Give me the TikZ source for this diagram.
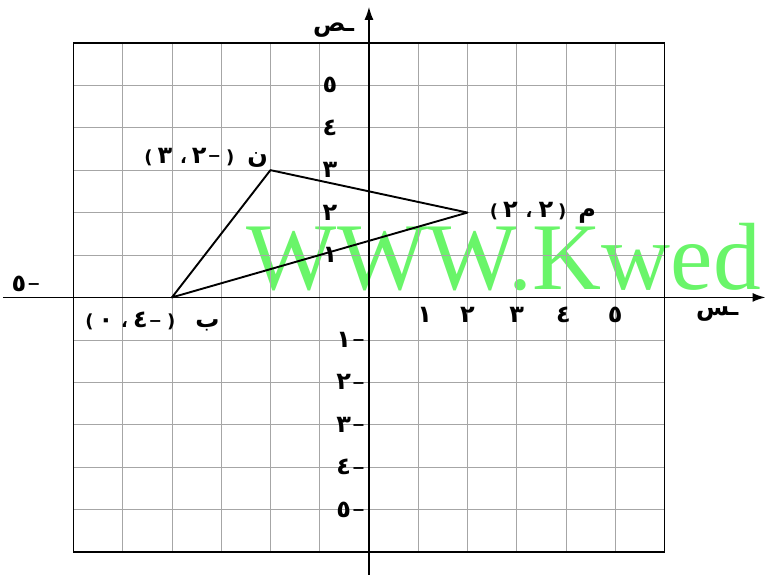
\documentclass[tikz,border=0pt]{standalone}
\usepackage{fontspec}
\setmainfont{Liberation Serif}
\newfontfamily\arabicfont[Script=Arabic]{DejaVu Sans}
\TeXXeTstate=1
\usetikzlibrary{arrows.meta}
\definecolor{wmgreen}{RGB}{105,245,105}
\newcommand\dgt[1]{{\fontsize{24}{26}\selectfont #1}}
\newcommand\mns{\raisebox{1.5pt}{\fontsize{16}{17}\selectfont −}}
\begin{document}
\begin{tikzpicture}[x=49.25pt,y=42.42pt,
  gridline/.style={gray!70, line width=0.7pt},
  axisline/.style={black, line width=1.6pt, -{Latex[length=13pt,width=9pt]}},
  frameline/.style={black, line width=1.6pt},
  triline/.style={black, line width=1.9pt, line join=round},
  ptlabel/.style={font=\arabicfont\bfseries\fontsize{18}{20}\selectfont, inner sep=0pt},
  ticklabel/.style={font=\arabicfont\bfseries\fontsize{18}{20}\selectfont, inner sep=0pt},
  axlabel/.style={font=\arabicfont\bfseries\fontsize{24}{26}\selectfont, inner sep=0pt},
  wmark/.style={font=\fontsize{95.5}{96}\selectfont, text=wmgreen, inner sep=0pt}]
\useasboundingbox (-7.49,-6.54) rectangle (8.08,7.01);
% watermark
\node[wmark, anchor=base west] (wm) at (-2.48,0.18) {WWW.Kwed};
% grid and frame
\draw[gridline, step=1] (-6,-6) grid (6,6);
\draw[frameline] (-6,-6) rectangle (6,6);
% axes
\coordinate (xl) at (-7.43,0);
\coordinate (xr) at (8.05,0);
\coordinate (yb) at (0,-6.54);
\coordinate (yt) at (0,6.85);
\draw[axisline] (xl) -- (xr);
\draw[axisline] (yb) -- (yt);
\node[axlabel] (sx) at (7.07,-0.40) {\beginR ـس\endR};
\node[axlabel] (sy) at (-0.72,6.30) {\beginR ـص\endR};
% ticks
\foreach \n/\t in {1/١,2/٢,3/٣,4/٤,5/٥}{
  \node[ticklabel] (yp\n) at (-0.79,\n) {\dgt{\t}};
  \node[ticklabel, anchor=east] (yn\n) at (-0.07,-\n) {\beginR \mns\kern1pt\dgt{\t}\endR};
}
\foreach \n/\t/\xx in {1/١/1.13,2/٢/2.0,3/٣/3.0,4/٤/3.95,5/٥/5.0}{
  \node[ticklabel] (xp\n) at (\xx,-0.42) {\dgt{\t}};
}
\node[ticklabel] (xn5) at (-6.96,0.32) {\beginR \mns\kern1pt\dgt{٥}\endR};
% triangle
\coordinate (B) at (-4,0);
\coordinate (N) at (-2,3);
\coordinate (M) at (2,2);
\draw[triline] (B) -- (N) -- (M) -- cycle;
% point labels
\node[ptlabel, anchor=east] (nl) at (-2.05,3.3) {\beginR \dgt{ن}\hspace{13pt}(\kern5pt \mns\kern1pt\dgt{٢}\kern5pt ،\kern8pt \dgt{٣}\kern5pt)\endR};
\node[ptlabel, anchor=west] (ml) at (2.45,2.0) {\beginR \dgt{م}\hspace{12pt}(\kern5pt \dgt{٢}\kern6pt ،\kern8pt \dgt{٢}\kern5pt)\endR};
\node[ptlabel, anchor=east] (bl) at (-3.03,-0.58) {\beginR \dgt{ب}\hspace{20pt}(\kern5pt \mns\kern1pt\dgt{٤}\kern5pt ،\kern8pt \dgt{٠}\kern5pt)\endR};
\end{tikzpicture}
\end{document}
